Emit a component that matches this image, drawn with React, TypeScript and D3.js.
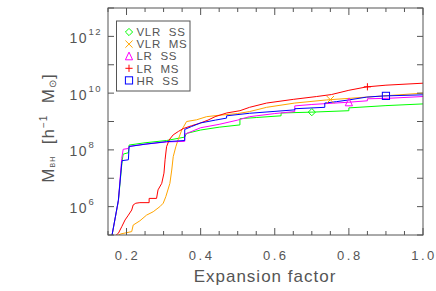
import React from "react";
import * as d3 from "d3";

// expansion factor a, log10 of black hole mass
const vlrSS: [number, number][] = [
  [0.161, 5.0], [0.178, 6.2], [0.188, 7.6], [0.191, 7.85], [0.205, 7.9], [0.207, 8.17],
  [0.25, 8.25], [0.308, 8.33], [0.357, 8.45], [0.362, 8.58], [0.4, 8.7], [0.45, 8.8],
  [0.506, 8.88], [0.506, 9.1], [0.55, 9.14], [0.617, 9.2], [0.617, 9.3], [0.7, 9.33],
  [0.8, 9.38], [0.8, 9.48], [0.9, 9.56], [1.0, 9.62],
];
const vlrMS: [number, number][] = [
  [0.178, 5.0], [0.185, 5.04], [0.214, 5.12], [0.218, 5.35], [0.236, 5.5], [0.254, 5.7],
  [0.272, 5.82], [0.29, 6.0], [0.299, 6.12], [0.306, 6.35], [0.317, 6.82], [0.322, 7.29],
  [0.326, 7.76], [0.333, 8.11], [0.339, 8.35], [0.349, 8.7], [0.362, 9.0], [0.389, 9.06],
  [0.416, 9.17], [0.45, 9.22], [0.5, 9.28], [0.532, 9.35], [0.578, 9.5], [0.654, 9.65],
  [0.74, 9.76], [0.848, 9.86], [1.0, 10.0],
];
const lrSS: [number, number][] = [
  [0.161, 5.0], [0.178, 6.2], [0.187, 7.7], [0.191, 8.02], [0.205, 8.05], [0.207, 8.12],
  [0.25, 8.2], [0.308, 8.28], [0.357, 8.3], [0.357, 8.55], [0.4, 8.78], [0.45, 8.9],
  [0.5, 9.05], [0.532, 9.17], [0.6, 9.28], [0.654, 9.35], [0.654, 9.55], [0.7, 9.6],
  [0.8, 9.68], [0.85, 9.73], [0.85, 9.8], [0.91, 9.82], [1.0, 9.88],
];
const lrMS: [number, number][] = [
  [0.172, 5.0], [0.178, 5.06], [0.187, 5.29], [0.196, 5.53], [0.205, 5.7], [0.214, 5.88],
  [0.218, 6.06], [0.225, 6.12], [0.236, 6.14], [0.261, 6.14], [0.261, 6.29], [0.281, 6.29],
  [0.285, 6.59], [0.295, 6.82], [0.301, 7.18], [0.304, 7.65], [0.308, 8.11], [0.315, 8.35],
  [0.326, 8.53], [0.34, 8.65], [0.353, 8.75], [0.375, 8.85], [0.398, 8.94], [0.42, 9.05],
  [0.439, 9.17], [0.47, 9.3], [0.506, 9.38], [0.532, 9.5], [0.578, 9.65], [0.65, 9.78],
  [0.713, 9.88], [0.753, 9.95], [0.8, 10.1], [0.848, 10.22], [0.9, 10.28], [1.0, 10.35],
];
const hrSS: [number, number][] = [
  [0.161, 5.0], [0.178, 6.23], [0.187, 7.53], [0.188, 7.62], [0.205, 7.65], [0.207, 8.12],
  [0.25, 8.2], [0.308, 8.29], [0.357, 8.33], [0.357, 8.72], [0.375, 8.82], [0.4, 8.95],
  [0.44, 9.05], [0.47, 9.12], [0.47, 9.2], [0.532, 9.29], [0.654, 9.41], [0.654, 9.45],
  [0.735, 9.5], [0.735, 9.65], [0.767, 9.7], [0.8, 9.76], [0.848, 9.86], [0.893, 9.9],
  [1.0, 9.94],
];

const seriesNames = ["VLR  SS", "VLR  MS", "LR  SS", "LR  MS", "HR  SS"];
const seriesColors = ["#00ff00", "#ffa500", "#ff00ff", "#ff0000", "#0000ff"];
const seriesMarkers = ["diamond", "cross", "triangle", "plus", "square"];
const markerAt = [0.7, 0.75, 0.8, 0.85, 0.9];
const allSeries = [vlrSS, vlrMS, lrSS, lrMS, hrSS];

const xMajor = [0.2, 0.4, 0.6, 0.8, 1.0];
const yExponents = [5, 6, 7, 8, 9, 10, 11, 12, 13];
const yLabelExp = [6, 8, 10, 12];

const W = 436;
const H = 291;
const axisColor = "#555";
const textColor = "#555";
const font = "'Liberation Sans', Arial, sans-serif";

function Marker({ type, x, y, color }: { type: string; x: number; y: number; color: string }) {
  const r = 3.6;
  const common = { fill: "none", stroke: color, strokeWidth: 1 };
  if (type === "diamond")
    return <path d={`M${x},${y - r}L${x + r},${y}L${x},${y + r}L${x - r},${y}Z`} {...common} />;
  if (type === "cross")
    return <path d={`M${x - r},${y - r}L${x + r},${y + r}M${x - r},${y + r}L${x + r},${y - r}`} {...common} />;
  if (type === "triangle")
    return <path d={`M${x},${y - r - 0.5}L${x + r},${y + r}L${x - r},${y + r}Z`} {...common} />;
  if (type === "plus")
    return <path d={`M${x - r},${y}L${x + r},${y}M${x},${y - r}L${x},${y + r}`} {...common} />;
  return <rect x={x - r} y={y - r} width={2 * r} height={2 * r} {...common} />;
}

export default function App() {
  const left = 108;
  const right = 423;
  const top = 8;
  const bottom = 235;

  const x = d3.scaleLinear().domain([0.15, 1.0]).range([left, right]);
  const y = d3.scaleLog().domain([1e5, 1e13]).range([bottom, top]);

  const line = d3
    .line<[number, number]>()
    .x((d) => x(d[0]))
    .y((d) => y(Math.pow(10, d[1])));

  const xMinor = d3.range(0.15, 1.0001, 0.05);

  const interp = (s: [number, number][], a: number) => {
    for (let i = 1; i < s.length; i++) {
      if (s[i][0] >= a) {
        const [a0, v0] = s[i - 1];
        const [a1, v1] = s[i];
        const t = a1 === a0 ? 1 : (a - a0) / (a1 - a0);
        return v0 + t * (v1 - v0);
      }
    }
    return s[s.length - 1][1];
  };

  return (
    <svg width={W} height={H} style={{ position: "absolute", left: 0, top: 0, background: "#fff" }}>
      <defs>
        <clipPath id="plot">
          <rect x={left} y={top} width={right - left} height={bottom - top} />
        </clipPath>
      </defs>

      {/* series */}
      <g clipPath="url(#plot)">
        {allSeries.map((s, i) => (
          <path key={i} d={line(s) || ""} fill="none" stroke={seriesColors[i]} strokeWidth={1} />
        ))}
        {allSeries.map((s, i) => (
          <Marker
            key={"m" + i}
            type={seriesMarkers[i]}
            x={x(markerAt[i])}
            y={y(Math.pow(10, interp(s, markerAt[i])))}
            color={seriesColors[i]}
          />
        ))}
      </g>

      {/* frame */}
      <rect x={left} y={top} width={right - left} height={bottom - top} fill="none" stroke={axisColor} strokeWidth={1} />

      {/* x ticks */}
      {xMinor.map((t, i) => {
        const isMajor = xMajor.some((m) => Math.abs(m - t) < 1e-6);
        const len = isMajor ? 7 : 4;
        return (
          <g key={"xt" + i} stroke={axisColor}>
            <line x1={x(t)} x2={x(t)} y1={bottom} y2={bottom - len} />
            <line x1={x(t)} x2={x(t)} y1={top} y2={top + len} />
          </g>
        );
      })}
      {xMajor.map((t) => (
        <text
          key={"xl" + t}
          x={x(t) + 1}
          y={260}
          textAnchor="middle"
          fontFamily={font}
          fontSize={13}
          letterSpacing={2.5}
          fill={textColor}
        >
          {t.toFixed(1)}
        </text>
      ))}

      {/* y ticks */}
      {yExponents.map((e) => {
        const py = y(Math.pow(10, e));
        return (
          <g key={"yt" + e} stroke={axisColor}>
            <line x1={left} x2={left + 6} y1={py} y2={py} />
            <line x1={right} x2={right - 6} y1={py} y2={py} />
          </g>
        );
      })}
      {yLabelExp.map((e) => {
        const py = y(Math.pow(10, e));
        return (
          <g key={"yl" + e} fontFamily={font} fill={textColor}>
            <text x={88} y={py + 6.5} textAnchor="end" fontSize={14} letterSpacing={1.5}>
              10
            </text>
            <text x={88.5} y={py - 1.5} fontSize={9.5} letterSpacing={1.5}>
              {e}
            </text>
          </g>
        );
      })}

      {/* axis titles */}
      <text x={265} y={282} textAnchor="middle" fontFamily={font} fontSize={17} letterSpacing={1} fill={textColor}>
        Expansion factor
      </text>
      <text
        transform="translate(54,128) rotate(-90)"
        textAnchor="middle"
        fontFamily={font}
        fontSize={17}
        letterSpacing={1}
        fill={textColor}
        style={{ whiteSpace: "pre" }}
      >
        M<tspan fontSize={7} dy={1}>BH</tspan>
        <tspan dy={-1}>{"  [h"}</tspan>
        <tspan fontSize={10} dy={-7}>{"−1"}</tspan>
        <tspan dy={7}>{"  M"}</tspan>
        <tspan fontSize={10} dy={2}>⊙</tspan>
        <tspan dy={-2}>]</tspan>
      </text>

      {/* legend */}
      <rect x={116.5} y={21} width={73.5} height={70} fill="#fff" stroke={axisColor} strokeWidth={1} />
      {seriesNames.map((n, i) => {
        const ly = 32 + i * 12.1;
        return (
          <g key={"lg" + i}>
            <Marker type={seriesMarkers[i]} x={129} y={ly} color={seriesColors[i]} />
            <text
              x={136.5}
              y={ly + 4.2}
              fontFamily={font}
              fontSize={11.5}
              letterSpacing={0.7}
              fill={textColor}
              style={{ whiteSpace: "pre" }}
            >
              {n}
            </text>
          </g>
        );
      })}
    </svg>
  );
}
